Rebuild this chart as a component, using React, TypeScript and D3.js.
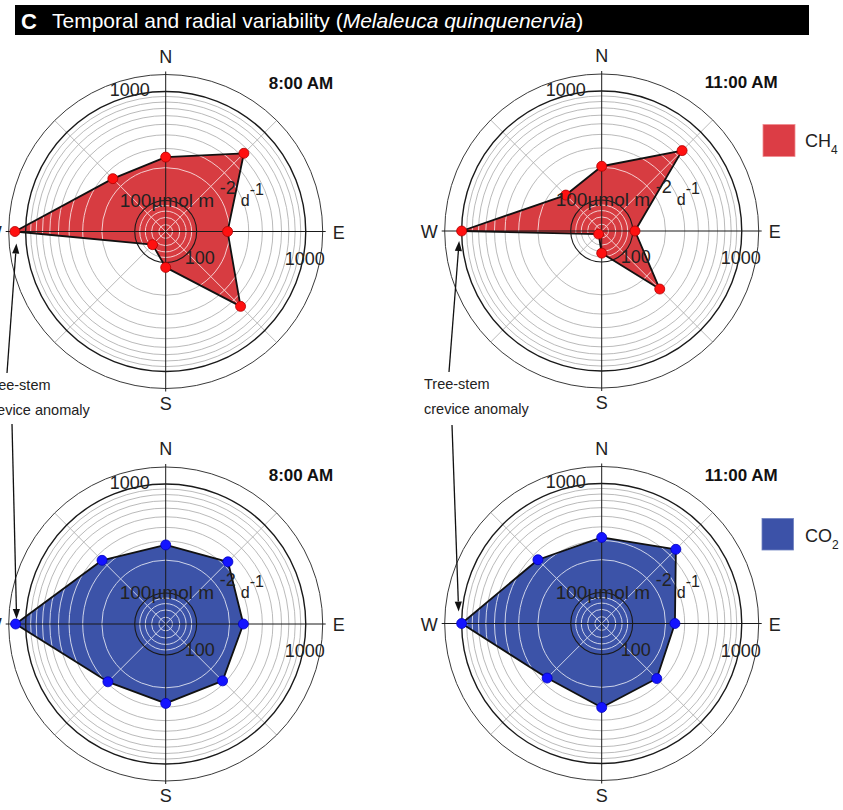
import React from 'react';
import * as d3 from 'd3';

// ---------------- data ----------------
const DIRECTIONS = ['N', 'NE', 'E', 'SE', 'S', 'SW', 'W', 'NW'];
const CH4_0800 = [250, 537, 192, 486, 111, 77, 1254, 252];
const CH4_1100 = [204, 573, 105, 294, 83, 57, 1000, 152];
const CO2_0800 = [276, 333, 268, 284, 278, 292, 1236, 348];
const CO2_1100 = [320, 476, 244, 269, 306, 265, 1000, 349];
const MINOR_RINGS = [60, 70, 80, 90, 200, 300, 400, 500, 600, 700, 800, 900];
const MAJOR_RINGS = [100, 1000];
const RADIAL_MIN = 52;
const RADIAL_FRAME = 1430;
const TIME_LABELS = ['8:00 AM', '11:00 AM'];
const GAS_LABELS = [['CH', '4'], ['CO', '2']];
const ANOMALY_TEXT = ['Tree-stem', 'crevice anomaly'];
const TITLE_LETTER = 'C';
const TITLE_TEXT = 'Temporal and radial variability (';
const TITLE_ITALIC = 'Melaleuca quinquenervia';

// ---------------- style ----------------
const FONT = '"Liberation Sans", Arial, Helvetica, sans-serif';
const CH4_FILL = '#d73c42';
const CH4_DOT = '#ff1010';
const CH4_DOT_STROKE = '#b00000';
const CO2_FILL = '#3d53a9';
const CO2_DOT = '#1414ff';
const CO2_DOT_STROKE = '#0000c0';
const TXT = '#222';

const rScale = d3.scaleLog().domain([RADIAL_MIN, RADIAL_FRAME]).range([0, 157]);
const angleOf = (i: number) => (i * Math.PI * 2) / DIRECTIONS.length;

type Panel = {
  id: string;
  values: number[];
  fill: string;
  dot: string;
  dotStroke: string;
  time: string;
  cx: number;
  cy: number;
};

const PANELS: Panel[] = [
  { id: 'p1', values: CH4_0800, fill: CH4_FILL, dot: CH4_DOT, dotStroke: CH4_DOT_STROKE, time: TIME_LABELS[0], cx: 165.7, cy: 231.5 },
  { id: 'p2', values: CH4_1100, fill: CH4_FILL, dot: CH4_DOT, dotStroke: CH4_DOT_STROKE, time: TIME_LABELS[1], cx: 601.7, cy: 231 },
  { id: 'p3', values: CO2_0800, fill: CO2_FILL, dot: CO2_DOT, dotStroke: CO2_DOT_STROKE, time: TIME_LABELS[0], cx: 165.7, cy: 624 },
  { id: 'p4', values: CO2_1100, fill: CO2_FILL, dot: CO2_DOT, dotStroke: CO2_DOT_STROKE, time: TIME_LABELS[1], cx: 601.7, cy: 623.5 },
];

const radialLine = d3
  .lineRadial<number>()
  .angle((_d, i) => angleOf(i))
  .radius((d) => rScale(d))
  .curve(d3.curveLinearClosed);

const diagIdx = [1, 3, 5, 7];

function MinorGrid({ stroke, width, opacity }: { stroke: string; width: number; opacity: number }) {
  const rf = rScale(RADIAL_FRAME);
  return (
    <g stroke={stroke} strokeWidth={width} fill="none" opacity={opacity}>
      {MINOR_RINGS.map((v) => (
        <circle key={v} r={rScale(v)} />
      ))}
      {diagIdx.map((i) => {
        const [x, y] = d3.pointRadial(angleOf(i), rf);
        return <line key={i} x1={0} y1={0} x2={x} y2={y} />;
      })}
    </g>
  );
}

function PolarPanel({ p }: { p: Panel }) {
  const d = radialLine(p.values) || '';
  const rf = rScale(RADIAL_FRAME);
  const r1000 = rScale(1000);
  const r100 = rScale(100);
  const pts = p.values.map((v, i) => d3.pointRadial(angleOf(i), rScale(v)));
  return (
    <g transform={`translate(${p.cx},${p.cy})`}>
      <defs>
        <clipPath id={`clip-${p.id}`}>
          <path d={d} />
        </clipPath>
      </defs>
      {/* grey grid */}
      <MinorGrid stroke="#a8a8a8" width={0.8} opacity={1} />
      {/* polygon fill */}
      <path d={d} fill={p.fill} stroke="none" />
      {/* white grid inside the polygon */}
      <g clipPath={`url(#clip-${p.id})`}>
        <MinorGrid stroke="#ffffff" width={1} opacity={0.75} />
      </g>
      {/* major rings and frame */}
      <circle r={rf} fill="none" stroke="#3a3a3a" strokeWidth={1} />
      <circle r={r1000} fill="none" stroke="#1a1a1a" strokeWidth={1.4} />
      <circle r={r100} fill="none" stroke="#1a1a1a" strokeWidth={1.1} />
      {/* axes */}
      <line x1={0} y1={-rf - 3} x2={0} y2={rf + 3} stroke="#1a1a1a" strokeWidth={1} />
      <line x1={-rf - 3} y1={0} x2={rf + 3} y2={0} stroke="#1a1a1a" strokeWidth={1} />
      {/* polygon outline */}
      <path d={d} fill="none" stroke="#111" strokeWidth={1.8} strokeLinejoin="round" />
      {/* dots */}
      {pts.map(([x, y], i) => (
        <circle key={i} cx={x} cy={y} r={5} fill={p.dot} stroke={p.dotStroke} strokeWidth={0.8} />
      ))}
      {/* compass labels */}
      <g fontFamily={FONT} fontSize={18} fill={TXT}>
        <text x={0} y={-rf - 12} textAnchor="middle">{DIRECTIONS[0]}</text>
        <text x={rf + 10} y={7} textAnchor="start">{DIRECTIONS[2]}</text>
        <text x={0} y={rf + 21} textAnchor="middle">{DIRECTIONS[4]}</text>
        <text x={-rf - 24} y={7} textAnchor="start">{DIRECTIONS[6]}</text>
      </g>
      {/* ring labels */}
      <g fontFamily={FONT} fontSize={18} fill={TXT}>
        <text x={-36} y={-r1000 + 5} textAnchor="middle">{String(MAJOR_RINGS[1])}</text>
        <text x={r1000 - 1} y={33} textAnchor="middle">{String(MAJOR_RINGS[1])}</text>
        <text x={r100 + 3} y={32} textAnchor="middle">{String(MAJOR_RINGS[0])}</text>
      </g>
      {/* unit label */}
      <g fontFamily={FONT} fill={TXT}>
        <text x={-46} y={-25} fontSize={19}>{'100\u00b5mol m'}</text>
        <text x={54} y={-38} fontSize={18}>-2</text>
        <text x={75} y={-26} fontSize={16}>d</text>
        <text x={84} y={-37} fontSize={16}>-1</text>
      </g>
      {/* time label */}
      <text x={103} y={-143} fontFamily={FONT} fontSize={17} fontWeight="bold" fill="#111">
        {p.time}
      </text>
    </g>
  );
}

function Arrow({ x1, y1, x2, y2 }: { x1: number; y1: number; x2: number; y2: number }) {
  const ang = Math.atan2(y2 - y1, x2 - x1);
  const len = 10;
  const half = 3.6;
  const bx = x2 - len * Math.cos(ang);
  const by = y2 - len * Math.sin(ang);
  const px = -Math.sin(ang) * half;
  const py = Math.cos(ang) * half;
  return (
    <g>
      <line x1={x1} y1={y1} x2={bx} y2={by} stroke="#111" strokeWidth={1.3} />
      <path d={`M${x2},${y2}L${bx + px},${by + py}L${bx - px},${by - py}Z`} fill="#111" />
    </g>
  );
}

export default function App() {
  const wIdx = DIRECTIONS.indexOf('W');
  const wPoint = (p: Panel) => {
    const [x, y] = d3.pointRadial(angleOf(wIdx), rScale(p.values[wIdx]));
    return [p.cx + x, p.cy + y];
  };
  const [w1x, w1y] = wPoint(PANELS[0]);
  const [w2x, w2y] = wPoint(PANELS[1]);
  const [w3x, w3y] = wPoint(PANELS[2]);
  const [w4x, w4y] = wPoint(PANELS[3]);

  return (
    <svg
      width={843}
      height={810}
      style={{ position: 'absolute', left: 0, top: 0, background: '#fff' }}
    >
      <rect x={0} y={0} width={843} height={810} fill="#fff" />
      {/* title bar */}
      <rect x={15} y={5} width={794} height={30} fill="#000" />
      <text x={21} y={28.5} fontFamily={FONT} fontSize={22} fontWeight="bold" fill="#fff">
        {TITLE_LETTER}
      </text>
      <text x={52} y={28} fontFamily={FONT} fontSize={21} fill="#fff">
        {TITLE_TEXT}
        <tspan fontStyle="italic">{TITLE_ITALIC}</tspan>
        {')'}
      </text>

      {PANELS.map((p) => (
        <PolarPanel key={p.id} p={p} />
      ))}

      {/* legends */}
      <rect x={763} y={124.5} width={32} height={32} fill="#dc3d45" stroke="#f08c90" strokeWidth={0.8} />
      <text x={805} y={147} fontFamily={FONT} fontSize={18} fill={TXT}>
        {GAS_LABELS[0][0]}
        <tspan fontSize={12} dy={7}>{GAS_LABELS[0][1]}</tspan>
      </text>
      <rect x={762} y={518.5} width={31.5} height={31.5} fill="#3c52a8" stroke="#6f82c0" strokeWidth={0.8} />
      <text x={805} y={541.5} fontFamily={FONT} fontSize={18} fill={TXT}>
        {GAS_LABELS[1][0]}
        <tspan fontSize={12} dy={7}>{GAS_LABELS[1][1]}</tspan>
      </text>

      {/* annotations */}
      <g fontFamily={FONT} fontSize={14.5} fill={TXT}>
        <text x={-15} y={390}>{ANOMALY_TEXT[0]}</text>
        <text x={-15} y={415}>{ANOMALY_TEXT[1]}</text>
        <text x={424} y={389}>{ANOMALY_TEXT[0]}</text>
        <text x={424} y={414}>{ANOMALY_TEXT[1]}</text>
      </g>
      <Arrow x1={7} y1={373} x2={w1x + 1.5} y2={w1y + 12} />
      <Arrow x1={12} y1={424} x2={w3x + 1} y2={w3y - 5} />
      <Arrow x1={449} y1={372} x2={w2x - 2.5} y2={w2y + 10} />
      <Arrow x1={452} y1={425} x2={w4x - 3} y2={w4y - 12} />
    </svg>
  );
}
